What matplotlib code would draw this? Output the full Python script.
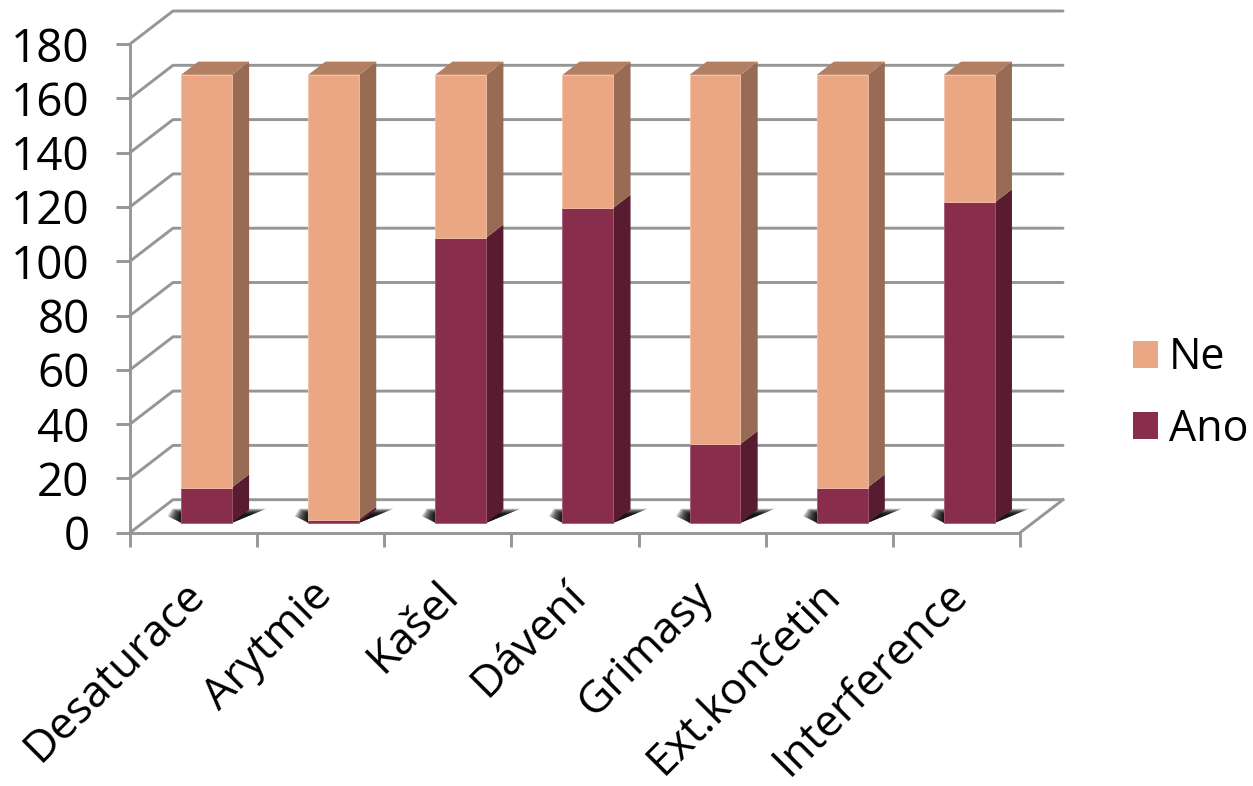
# -*- coding: utf-8 -*-
import matplotlib
matplotlib.use("Agg")
import matplotlib.pyplot as plt
from matplotlib.patches import Polygon, Patch

plt.rcParams['font.family'] = ['Open Sans', 'DejaVu Sans']

categories = ['Desaturace', 'Arytmie', 'Kašel', 'Dávení', 'Grimasy', 'Ext.končetin', 'Interference']
ano = [13, 1, 105, 116, 29, 13, 118]
ne = [152, 164, 60, 49, 136, 152, 47]
y_ticks = [0, 20, 40, 60, 80, 100, 120, 140, 160, 180]

W, H = 1253, 786
LEFT, RIGHT, TOP, BOTTOM = 130, 1020, 44, 532.7

GRID = '#969696'
ANO_FRONT, ANO_SIDE = '#892d4d', '#581b30'
NE_FRONT, NE_SIDE, NE_TOP = '#eba684', '#976b54', '#b37f63'

fig = plt.figure(figsize=(W / 100, H / 100), dpi=100)
ax = fig.add_axes([LEFT / W, 1 - BOTTOM / H, (RIGHT - LEFT) / W, (BOTTOM - TOP) / H])
ax.set_xlim(0, len(categories))
ax.set_ylim(0, 180)

# depth of the fake 3D box, in data units
depth_x = 43 / ((RIGHT - LEFT) / len(categories))
depth_y = 33 / ((BOTTOM - TOP) / 180)
bar_width = 0.40
front = 0.30   # bar front sits this far back in the box
bar_depth = 0.40
sx, sy = depth_x * bar_depth, depth_y * bar_depth
x0, lift = depth_x * front, depth_y * front
n = len(categories)

# walls and floor
for v in y_ticks:
    ax.plot([0, depth_x, n + depth_x], [v, v + depth_y, v + depth_y], color=GRID, lw=2.1,
            clip_on=False, zorder=1, solid_capstyle='round')
ax.plot([n, n + depth_x], [0, depth_y], color=GRID, lw=2.1, clip_on=False, zorder=1)

xs = [i + 0.5 + x0 for i in range(n)]

# soft shadow under each bar, built from stacked translucent layers
layers = 24
for x in xs:
    l, r = x - bar_width / 2, x + bar_width / 2
    for k in range(layers):
        t = 1 - k / (layers - 1)   # 1 = outer edge, 0 = dark core
        ax.add_patch(Polygon([(l - 0.11 * t, lift + 0.5 + 2.0 * t),
                              (l, lift), (r, lift),
                              (r + sx + 0.02 + 0.12 * t, lift + sy - 1.8 + 2.2 * t),
                              (l - 0.07 * t, lift + sy - 1.8 + 2.2 * t)],
                             closed=True, fc='black', ec='none', alpha=0.09, clip_on=False, zorder=2))

ax.bar(xs, ano, bar_width, bottom=lift, color=ANO_FRONT, edgecolor='#a5597a', linewidth=0.6,
       clip_on=False, zorder=4, label='Ano')
tops = [a + b for a, b in zip(ano, ne)]
ax.bar(xs, ne, bar_width, bottom=[lift + a for a in ano], color=NE_FRONT, edgecolor='#f2c3ab', linewidth=0.6,
       clip_on=False, zorder=4, label='Ne')

# side and top faces
for x, a, t in zip(xs, ano, tops):
    r = x + bar_width / 2
    l = x - bar_width / 2
    ax.add_patch(Polygon([(r, lift), (r + sx, lift + sy), (r + sx, lift + a + sy), (r, lift + a)],
                         closed=True, fc=ANO_SIDE, ec='none', clip_on=False, zorder=3))
    ax.add_patch(Polygon([(r, lift + a), (r + sx, lift + a + sy), (r + sx, lift + t + sy), (r, lift + t)],
                         closed=True, fc=NE_SIDE, ec='none', clip_on=False, zorder=3))
    ax.add_patch(Polygon([(l, lift + t), (r, lift + t), (r + sx, lift + t + sy), (l + sx, lift + t + sy)],
                         closed=True, fc=NE_TOP, ec='none', clip_on=False, zorder=3))

for s in ['top', 'right']:
    ax.spines[s].set_visible(False)
for s in ['left', 'bottom']:
    ax.spines[s].set_color(GRID)
    ax.spines[s].set_linewidth(2.1)

ax.set_yticks(y_ticks)
ax.set_xticks(range(n + 1))
ax.set_xticklabels([])
ax.tick_params(axis='y', length=10, width=2.1, color=GRID, labelsize=33, pad=19)
ax.tick_params(axis='x', length=10, width=2.1, color=GRID)

# category labels sit between the ticks
for i, name in enumerate(categories):
    ax.annotate(name, xy=(i + 0.5, 0), xytext=(-8, -29), textcoords='offset points',
                rotation=45, rotation_mode='anchor', ha='right', va='top', fontsize=32,
                annotation_clip=False)

handles = [Patch(fc=NE_FRONT, ec='none'), Patch(fc=ANO_FRONT, ec='none')]
fig.legend(handles, ['Ne', 'Ano'], loc='center left', bbox_to_anchor=(1133 / W, 1 - 394 / H), frameon=False,
           fontsize=31, handlelength=0.58, handleheight=0.58, handletextpad=0.25, labelspacing=0.63,
           borderpad=0, borderaxespad=0)

fig.savefig('out.png', dpi=100)
